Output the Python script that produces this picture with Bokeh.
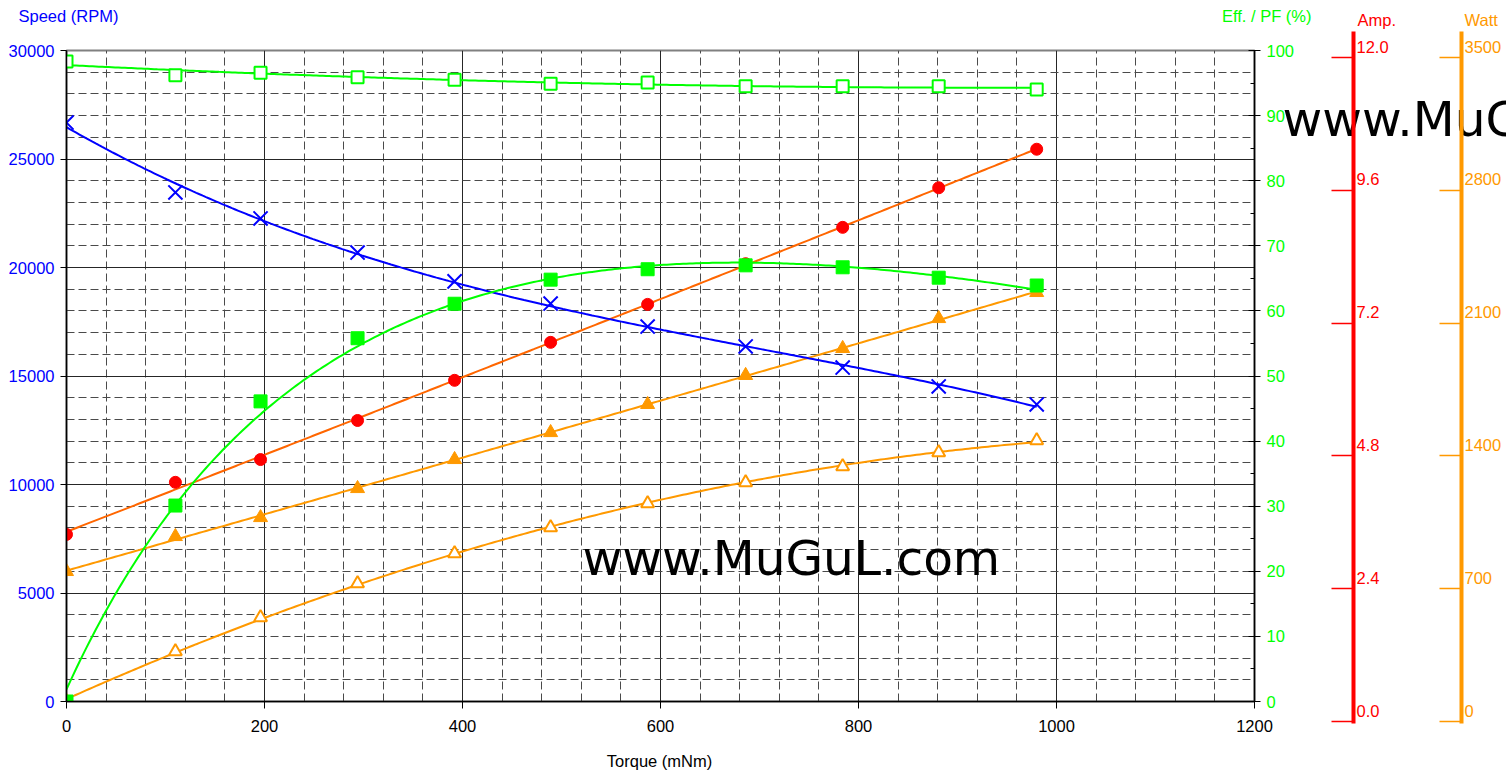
import numpy as np
from bokeh.plotting import figure
from bokeh.models import LinearAxis, Range1d, FixedTicker, Label
from bokeh.embed import file_html
from bokeh.resources import INLINE
from bokeh.core.properties import value

# ---------------- data ----------------
torque = [0, 110, 196, 294, 392, 489, 587, 686, 784, 881, 980]            # mNm
speed = [26680, 23460, 22260, 20690, 19360, 18340, 17280, 16360, 15390, 14520, 13690]  # RPM
current = [3.08, 4.04, 4.46, 5.18, 5.92, 6.62, 7.32, 8.07, 8.74, 9.47, 10.18]         # A
efficiency = [0.0, 30.1, 46.1, 55.8, 61.1, 64.8, 66.4, 67.0, 66.7, 65.1, 63.9]        # %
power_factor = [98.3, 96.2, 96.6, 95.9, 95.5, 94.9, 95.1, 94.5, 94.5, 94.5, 94.0]     # %
power_in = [699, 887, 989, 1145, 1301, 1446, 1597, 1753, 1898, 2059, 2199]           # W
power_out = [0, 269, 452, 634, 796, 935, 1064, 1177, 1263, 1339, 1403]               # W

# ---------------- ticks / labels ----------------
x_major = list(range(0, 1201, 200))
x_minor = [v for v in range(0, 1201, 40) if v % 200]
y_major = list(range(0, 30001, 5000))
y_minor = [v for v in range(0, 30001, 1000) if v % 5000]
eff_major = list(range(0, 101, 10))
eff_minor = list(range(5, 100, 10))
amp_ticks = [0.0, 2.4, 4.8, 7.2, 9.6, 12.0]
amp_labels = ["0.0", "2.4", "4.8", "7.2", "9.6", "12.0"]
watt_ticks = [0, 700, 1400, 2100, 2800, 3500]
watt_labels = ["0", "700", "1400", "2100", "2800", "3500"]

FONT = "Liberation Sans"
FS = "16.5px"
WM_FONT = "DejaVu Sans"
WM_SIZE = "48.6px"
WM_TEXT = "www.MuGuL.com"
BLUE = "#0000ff"
GREEN = "#00ff00"
RED = "#ff0000"
RED_LINE = "#ff6600"
ORANGE = "#ff9900"

W, H = 1506, 771
MAIN_W, AMP_W = 1318, 112
WATT_W = W - MAIN_W - AMP_W

# ---------------- main figure (frame: x 66..1254, y 50..701) ----------------
p = figure(width=MAIN_W, height=H, x_range=Range1d(0, 1200), y_range=Range1d(0, 30000),
           output_backend="svg", toolbar_location=None,
           min_border_left=66, min_border_right=64, min_border_top=50, min_border_bottom=70)
p.extra_y_ranges = {"eff": Range1d(0, 100), "amp": Range1d(0, 12), "watt": Range1d(0, 3500)}
p.background_fill_color = "white"
p.border_fill_color = None
p.outline_line_color = "#808080"
p.outline_line_width = 2

p.xgrid.ticker = FixedTicker(ticks=x_major, minor_ticks=x_minor)
p.ygrid.ticker = FixedTicker(ticks=y_major, minor_ticks=y_minor)
for g in (p.xgrid, p.ygrid):
    g.grid_line_color = "#262626"
    g.grid_line_width = 1
    g.minor_grid_line_color = "#4a4a4a"
    g.minor_grid_line_width = 1
    g.minor_grid_line_dash = "8 4"

p.xaxis.ticker = FixedTicker(ticks=x_major)
p.yaxis.ticker = FixedTicker(ticks=y_major)
for ax in (p.xaxis, p.yaxis):
    ax.axis_line_color = "black"
    ax.axis_line_width = 1.5
    ax.major_tick_line_color = "black"
    ax.major_tick_in = 0
    ax.minor_tick_in = 0
    ax.minor_tick_out = 0
    ax.major_label_text_font = FONT
    ax.major_label_text_font_size = FS
p.yaxis.major_tick_out = 6
p.yaxis.major_label_standoff = 6
p.yaxis.major_label_text_color = BLUE
p.xaxis.major_tick_out = 7
p.xaxis.major_label_standoff = 11
p.xaxis.major_label_text_color = "black"

eff_axis = LinearAxis(y_range_name="eff", ticker=FixedTicker(ticks=eff_major, minor_ticks=eff_minor),
                      axis_line_color="black", axis_line_width=1.5,
                      major_tick_in=6, major_tick_out=6, minor_tick_in=4, minor_tick_out=0,
                      major_tick_line_color="black", minor_tick_line_color="black",
                      major_label_standoff=6, major_label_text_color=GREEN,
                      major_label_text_font=FONT, major_label_text_font_size=FS)
p.add_layout(eff_axis, "right")

# centre watermark (inside the frame; screen units from the frame's bottom-left)
p.add_layout(Label(x=516, y=143.5, x_units="screen", y_units="screen", text=WM_TEXT,
                   text_color="black", text_font=WM_FONT, text_font_size=WM_SIZE,
                   text_align="left", text_baseline="middle", level="underlay"))

# ---------------- series ----------------
xs_fit = np.linspace(0, max(torque), 300)

def trend(vals, deg):
    return np.polyval(np.polyfit(torque, vals, deg), xs_fit)

pin_fit = trend(power_in, 2)
pout_fit = trend(power_out, 2)

p.line(xs_fit, pout_fit, y_range_name="watt", line_color=ORANGE, line_width=2)
p.line(xs_fit, pin_fit, y_range_name="watt", line_color=ORANGE, line_width=2)
p.line(xs_fit, trend(current, 2), y_range_name="amp", line_color=RED_LINE, line_width=2)
p.line(xs_fit, trend(speed, 3), line_color=BLUE, line_width=2)
p.line(xs_fit, trend(power_factor, 2), y_range_name="eff", line_color=GREEN, line_width=2)
p.line(xs_fit, 100.0 * pout_fit / pin_fit, y_range_name="eff", line_color=GREEN, line_width=2)

p.scatter(torque, power_out, y_range_name="watt", marker="triangle", size=13,
          fill_color="white", line_color=ORANGE, line_width=2)
p.scatter(torque, power_in, y_range_name="watt", marker="triangle", size=14,
          fill_color=ORANGE, line_color=ORANGE, line_width=1)
p.scatter(torque, current, y_range_name="amp", marker="circle", size=12,
          fill_color=RED, line_color=RED)
p.scatter(torque, speed, marker="x", size=20, line_color=BLUE, line_width=2)
p.scatter(torque, power_factor, y_range_name="eff", marker="square", size=12,
          fill_color="white", line_color=GREEN, line_width=2)
p.scatter(torque, efficiency, y_range_name="eff", marker="square", size=13,
          fill_color=GREEN, line_color=GREEN)

# ---------------- side axes (Amp, Watt): frames span y 31..723 ----------------
TOP_B, FRAME_H = 31, 692
PX = 664.0   # pixels between the 0 tick (y=721) and the top tick (y=57)

def side_fig(width, left, vmax, ticks, labels, color):
    lo = -2.0 * vmax / PX
    hi = vmax + 26.0 * vmax / PX
    f = figure(width=width, height=H, x_range=Range1d(0, 1), y_range=Range1d(lo, hi),
               output_backend="svg", toolbar_location=None,
               x_axis_location=None, y_axis_location=None,
               min_border_left=left, min_border_right=0, min_border_top=TOP_B,
               min_border_bottom=H - TOP_B - FRAME_H)
    f.grid.visible = False
    f.outline_line_color = None
    f.background_fill_color = None
    f.border_fill_color = None
    ax = LinearAxis(ticker=FixedTicker(ticks=ticks), axis_line_color=color, axis_line_width=4,
                    major_tick_out=22, major_tick_in=0, minor_tick_in=0, minor_tick_out=0,
                    major_tick_line_color=color, major_tick_line_width=1.5,
                    major_label_text_color=None, major_label_text_font_size="1px",
                    major_label_standoff=0)
    f.add_layout(ax, "left")
    f.text(x=[0] * len(ticks), y=ticks, text=labels, x_offset=3, y_offset=-11,
           text_align="left", text_baseline="middle", text_color=color,
           text_font=value(FONT), text_font_size=FS)
    return f

p_amp = side_fig(AMP_W, 35, 12.0, amp_ticks, amp_labels, RED)
p_watt = side_fig(WATT_W, 31, 3500.0, watt_ticks, watt_labels, ORANGE)

# ---------------- page-wide text layer (titles, axis title, cut-off watermark) ----------------
ov = figure(width=W, height=H, x_range=Range1d(0, W), y_range=Range1d(H, 0),
            output_backend="svg", toolbar_location=None,
            x_axis_location=None, y_axis_location=None,
            min_border_left=0, min_border_right=0, min_border_top=0, min_border_bottom=0)
ov.grid.visible = False
ov.outline_line_color = None
ov.background_fill_color = "white"
ov.border_fill_color = "white"

def olab(text, x, y, color, align="left", size=FS, font=FONT):
    ov.add_layout(Label(x=x, y=y, text=text, text_color=color, text_font=font,
                        text_font_size=size, text_align=align, text_baseline="middle"))

olab("Speed (RPM)", 18, 15, BLUE)
olab("Eff. / PF (%)", 1311, 15, GREEN, align="right")
olab("Amp.", 1357, 19, RED)
olab("Watt", 1464, 19, ORANGE)
olab("Torque (mNm)", 659, 760, "black", align="center")
olab(WM_TEXT, 1282, 118, "black", size=WM_SIZE, font=WM_FONT)

# text layer at the bottom, the three chart parts on top of it at fixed offsets
TEMPLATE = """
{% block postamble %}
<style>
html, body { margin: 0; padding: 0; }
.slot { position: absolute; top: 0; }
</style>
{% endblock %}
{% block contents %}
{% for doc in docs %}{% for root in doc.roots %}
<div class="slot" style="left: {{ offsets[loop.index0] }}px; z-index: {{ loop.index }};"><div id="{{ root.elementid }}"></div></div>
{% endfor %}{% endfor %}
{% endblock %}
"""

open("out.html", "w").write(file_html([ov, p, p_amp, p_watt], INLINE, template=TEMPLATE,
                                      template_variables={"offsets": [0, 0, MAIN_W, MAIN_W + AMP_W]}))
